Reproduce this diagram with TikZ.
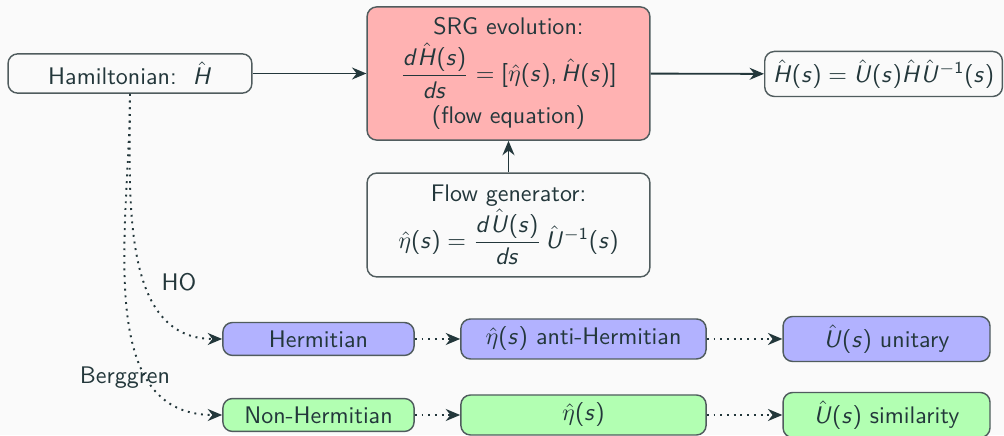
\documentclass[tikz,border=0pt]{standalone}
\usepackage{amsmath}
\usepackage{tikz}
\usetikzlibrary{arrows.meta, positioning}
% sans serif letters in math
\DeclareSymbolFont{sfletters}{OT1}{cmss}{m}{sl}
\DeclareSymbolFont{sfops}{OT1}{cmss}{m}{n}
\DeclareMathSymbol{d}{\mathalpha}{sfletters}{`d}
\DeclareMathSymbol{s}{\mathalpha}{sfletters}{`s}
\DeclareMathSymbol{H}{\mathalpha}{sfletters}{`H}
\DeclareMathSymbol{U}{\mathalpha}{sfletters}{`U}
\DeclareMathSymbol{1}{\mathalpha}{sfops}{`1}
\DeclareMathSymbol{=}{\mathrel}{sfops}{`=}
\DeclareMathSymbol{(}{\mathopen}{sfops}{`(}
\DeclareMathSymbol{)}{\mathclose}{sfops}{`)}
\DeclareMathSymbol{[}{\mathopen}{sfops}{`[}
\DeclareMathSymbol{]}{\mathclose}{sfops}{`]}
\DeclareMathSymbol{,}{\mathpunct}{sfops}{`,}
\definecolor{mybg}{RGB}{250,250,250}
\definecolor{mytext}{RGB}{35,55,59}
\definecolor{myframe}{RGB}{80,92,94}
\tikzset{
  box/.style={rectangle, draw=myframe, rounded corners=4pt,
    align=center, line width=0.6pt, text=mytext},
  srgbox/.style={box, fill=red!30, minimum width=4.14cm, minimum height=1.95cm},
  genbox/.style={box, minimum width=4.14cm, minimum height=1.52cm},
  hbox/.style={box, fill=blue!30},
  nhbox/.style={box, fill=green!30},
  arrow/.style={-{Stealth[length=6pt,width=5pt]}, line width=0.8pt, color=mytext},
  dotarrow/.style={-{Stealth[length=6pt,width=5pt]}, dash pattern=on 0.8pt off 2pt,
    line width=0.8pt, color=mytext}
}
\begin{document}
\begin{tikzpicture}[font=\sffamily, text=mytext]
  % Background and frame
  \fill[mybg] (0,0) rectangle (14.70,-6.369);
  \useasboundingbox (0,0) rectangle (14.70,-6.369);

  % Top row
  \node[box, minimum width=3.57cm] (ham) at (1.903,-1.076) {Hamiltonian:\ \ $\hat{H}$};
  \node[srgbox] (srg) at (7.445,-1.076)
    {SRG evolution:\\[2pt] $\dfrac{d\hat{H}(s)}{ds} = [\hat{\eta}(s), \hat{H}(s)]$\\[2pt] (flow equation)};
  \node[box, anchor=west, minimum width=3.48cm] (res) at (11.186,-1.083)
    {$\hat{H}(s) = \hat{U}(s)\hat{H}\hat{U}^{-1}(s)$};

  % Flow generator
  \node[genbox] (gen) at (7.445,-3.294)
    {Flow generator:\\ $\hat{\eta}(s) = \dfrac{d\hat{U}(s)}{ds}\,\hat{U}^{-1}(s)$};

  % HO branch
  \node[hbox, minimum width=2.80cm] (herm) at (4.663,-4.963) {Hermitian};
  \node[hbox, minimum width=3.59cm] (anti) at (8.543,-4.963) {$\hat{\eta}(s)$\ anti-Hermitian};
  \node[hbox, minimum width=3.03cm] (unit) at (12.98,-4.963) {$\hat{U}(s)$\ unitary};

  % Berggren branch
  \node[nhbox, minimum width=2.80cm] (nonh) at (4.663,-6.076) {Non-Hermitian};
  \node[nhbox, minimum width=3.59cm] (eta) at (8.543,-6.076) {$\hat{\eta}(s)$};
  \node[nhbox, minimum width=3.03cm] (sim) at (12.98,-6.076) {$\hat{U}(s)$\ similarity};

  % Connections
  \draw[arrow] (ham) -- (srg);
  \draw[arrow] (srg) -- (res);
  \draw[arrow] (gen) -- (srg);

  \draw[dotarrow] (ham.south) to[out=-90, in=180] node[pos=0.6, right=3pt] {HO} (herm.west);
  \draw[dotarrow] (ham.south) to[out=-90, in=180] node[pos=0.72, xshift=-9.5pt, yshift=-1pt] {Berggren} (nonh.west);
  \draw[dotarrow] (herm) -- (anti);
  \draw[dotarrow] (anti) -- (unit);
  \draw[dotarrow] (nonh) -- (eta);
  \draw[dotarrow] (eta) -- (sim);
\end{tikzpicture}
\end{document}
